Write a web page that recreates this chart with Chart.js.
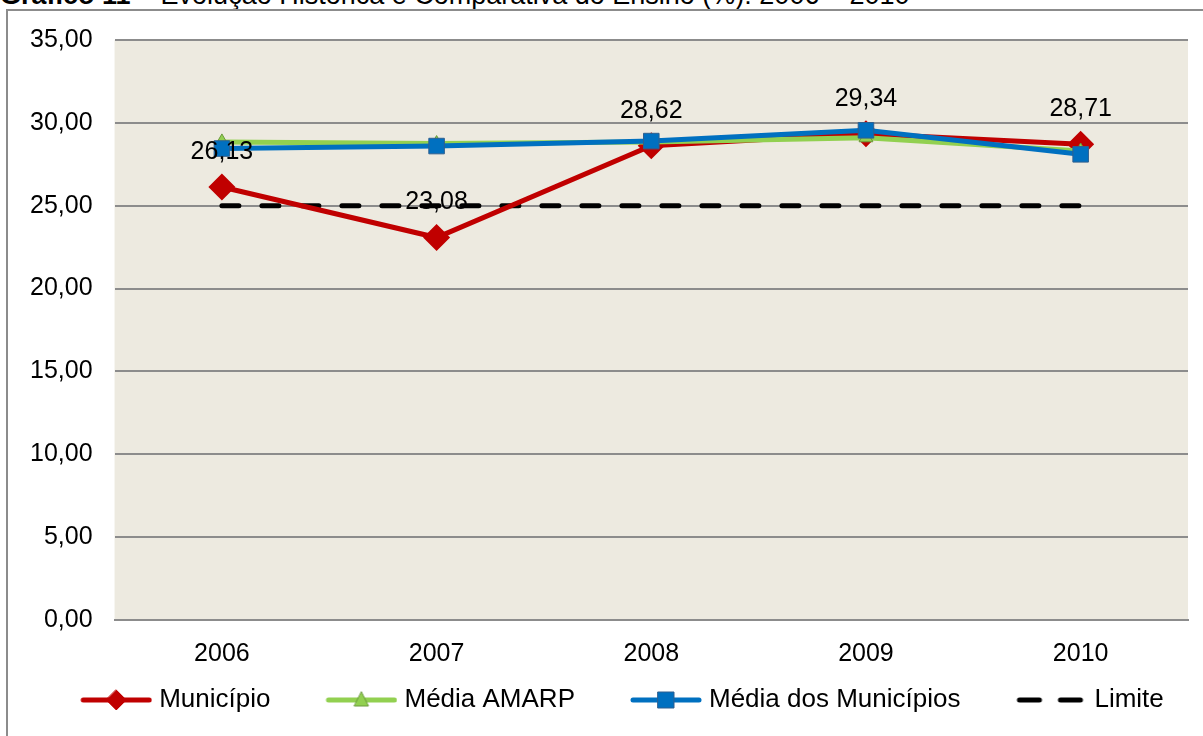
<!DOCTYPE html>
<html>
<head>
<meta charset="utf-8">
<script src="https://cdn.jsdelivr.net/npm/chart.js@4.4.0/dist/chart.umd.min.js"></script>
<style>
  body { margin: 0; background: #fff; width: 1203px; height: 736px; overflow: hidden; position: relative;
         font-family: 'Liberation Sans', Arial, sans-serif; }
  #title { position: absolute; left: 0; top: -20px; font-size: 27px; white-space: nowrap; color: #000; }
  #frame { position: absolute; left: 6px; top: 9px; width: 1220px; height: 760px; border: 2px solid #8c8c8c; }
  #wrap { position: absolute; left: 8px; top: 3px; width: 1195px; height: 733px; }
</style>
</head>
<body>
<div id="title"><b>Gráfico 11</b> – Evolução Histórica e Comparativa do Ensino (%): 2006 – 2010</div>
<div id="frame"></div>
<div id="wrap"><canvas id="myChart"></canvas></div>
<script>
// dados do gráfico
const anos = ['2006', '2007', '2008', '2009', '2010']
const municipio = [26.13, 23.08, 28.62, 29.34, 28.71]
const mediaAmarp = [28.85, 28.75, 28.85, 29.1, 28.3]
const mediaMunicipios = [28.45, 28.6, 28.9, 29.55, 28.1]
const limite = [25, 25, 25, 25, 25]
const yTicks = [0, 5, 10, 15, 20, 25, 30, 35]

const FONT = "'Liberation Sans', Arial, sans-serif"
const fmt = v => v.toFixed(2).replace('.', ',')

// ícone da legenda: linha + marcador (canvas 126px, desenho nos 72px da direita)
function legendIcon(color, marker, border, dashed) {
    const c = document.createElement('canvas')
    c.width = 126
    c.height = 22
    const g = c.getContext('2d')
    const x0 = 54
    g.strokeStyle = color
    g.lineWidth = 5
    g.lineCap = 'round'
    if (dashed) {
        g.beginPath(); g.moveTo(x0 + 4, 11); g.lineTo(x0 + 24, 11); g.stroke()
        g.beginPath(); g.moveTo(x0 + 45, 11); g.lineTo(x0 + 65, 11); g.stroke()
        return c
    }
    g.beginPath(); g.moveTo(x0 + 3, 11); g.lineTo(x0 + 69, 11); g.stroke()
    const m = x0 + 36
    g.fillStyle = color
    g.strokeStyle = border
    g.lineWidth = 1
    g.beginPath()
    if (marker === 'diamond') {
        g.moveTo(m, 1); g.lineTo(m + 10, 11); g.lineTo(m, 21); g.lineTo(m - 10, 11)
    } else if (marker === 'triangle') {
        g.moveTo(m, 3); g.lineTo(m + 7, 17); g.lineTo(m - 7, 17)
    } else {
        g.rect(m - 8, 3, 16, 16)
    }
    g.closePath(); g.fill(); g.stroke()
    return c
}

// fundo da área do gráfico
const plotBg = {
    id: 'plotBg',
    beforeDraw(chart) {
        const { ctx, chartArea: a } = chart
        ctx.save()
        ctx.fillStyle = '#EDEAE0'
        ctx.fillRect(a.left, a.top, a.right - a.left, a.bottom - a.top)
        ctx.restore()
    },
}

// rótulos de valor do Município
const valueLabels = {
    id: 'valueLabels',
    afterDatasetsDraw(chart) {
        const ctx = chart.ctx
        const meta = chart.getDatasetMeta(0)
        ctx.save()
        ctx.font = '25px ' + FONT
        ctx.fillStyle = '#000'
        ctx.textAlign = 'center'
        ctx.textBaseline = 'middle'
        meta.data.forEach(function (pt, i) {
            ctx.fillText(fmt(municipio[i]), pt.x, pt.y - 35)
        })
        ctx.restore()
    },
}

const ctx = document.getElementById('myChart').getContext('2d')
const myChart = new Chart(ctx, {
    type: 'line',
    data: {
        labels: anos,
        datasets: [
            {
                label: 'Município',
                data: municipio,
                order: 2,
                borderColor: '#C00000',
                backgroundColor: '#C00000',
                borderWidth: 5,
                pointStyle: 'rectRot',
                pointRadius: 10,
                pointBorderColor: '#C00000',
                pointBackgroundColor: '#C00000',
                legendIcon: legendIcon('#C00000', 'diamond', '#C00000'),
            },
            {
                label: 'Média AMARP',
                data: mediaAmarp,
                order: 1,
                borderColor: '#92D050',
                backgroundColor: '#92D050',
                borderWidth: 5,
                pointStyle: 'triangle',
                pointRadius: 8,
                pointBorderWidth: 1,
                pointBorderColor: '#6A9A3A',
                pointBackgroundColor: '#92D050',
                legendIcon: legendIcon('#92D050', 'triangle', '#6A9A3A'),
            },
            {
                label: 'Média dos Municípios',
                data: mediaMunicipios,
                order: 0,
                borderColor: '#0070C0',
                backgroundColor: '#0070C0',
                borderWidth: 5,
                pointStyle: 'rect',
                pointRadius: 11,
                pointBorderWidth: 1,
                pointBorderColor: '#2F5F8F',
                pointBackgroundColor: '#0070C0',
                legendIcon: legendIcon('#0070C0', 'square', '#2F5F8F'),
            },
            {
                label: 'Limite',
                data: limite,
                order: 3,
                borderColor: '#000',
                backgroundColor: '#000',
                borderWidth: 5,
                borderDash: [17, 23],
                borderCapStyle: 'round',
                pointRadius: 0,
                legendIcon: legendIcon('#000', null, null, true),
            },
        ],
    },
    options: {
        responsive: true,
        maintainAspectRatio: false,
        animation: false,
        layout: { padding: { left: 0, right: 15, top: 7, bottom: 13 } },
        plugins: {
            tooltip: { enabled: false },
            legend: {
                position: 'bottom',
                sort: (a, b) => a.datasetIndex - b.datasetIndex,
                labels: {
                    usePointStyle: true,
                    pointStyleWidth: 114,
                    padding: 7,
                    color: '#000',
                    font: { family: FONT, size: 26 },
                    generateLabels(chart) {
                        return chart.data.datasets.map(function (ds, i) {
                            return {
                                text: ds.label,
                                pointStyle: ds.legendIcon,
                                fillStyle: ds.borderColor,
                                strokeStyle: ds.borderColor,
                                lineWidth: 0,
                                fontColor: '#000',
                                datasetIndex: i,
                                hidden: false,
                            }
                        })
                    },
                },
            },
        },
        scales: {
            x: {
                offset: true,
                grid: { display: false },
                border: { display: true, color: '#8C8C8C', width: 2 },
                ticks: { color: '#000', padding: 11, font: { family: FONT, size: 25 } },
            },
            y: {
                min: 0,
                max: 35,
                afterBuildTicks(scale) {
                    scale.ticks = yTicks.map(v => ({ value: v }))
                },
                grid: { color: '#8C8C8C', lineWidth: 2, drawTicks: false },
                border: { display: false },
                ticks: {
                    color: '#000',
                    padding: 22,
                    font: { family: FONT, size: 25 },
                    callback: v => fmt(v),
                },
            },
        },
    },
    plugins: [plotBg, valueLabels],
})
</script>
</body>
</html>
